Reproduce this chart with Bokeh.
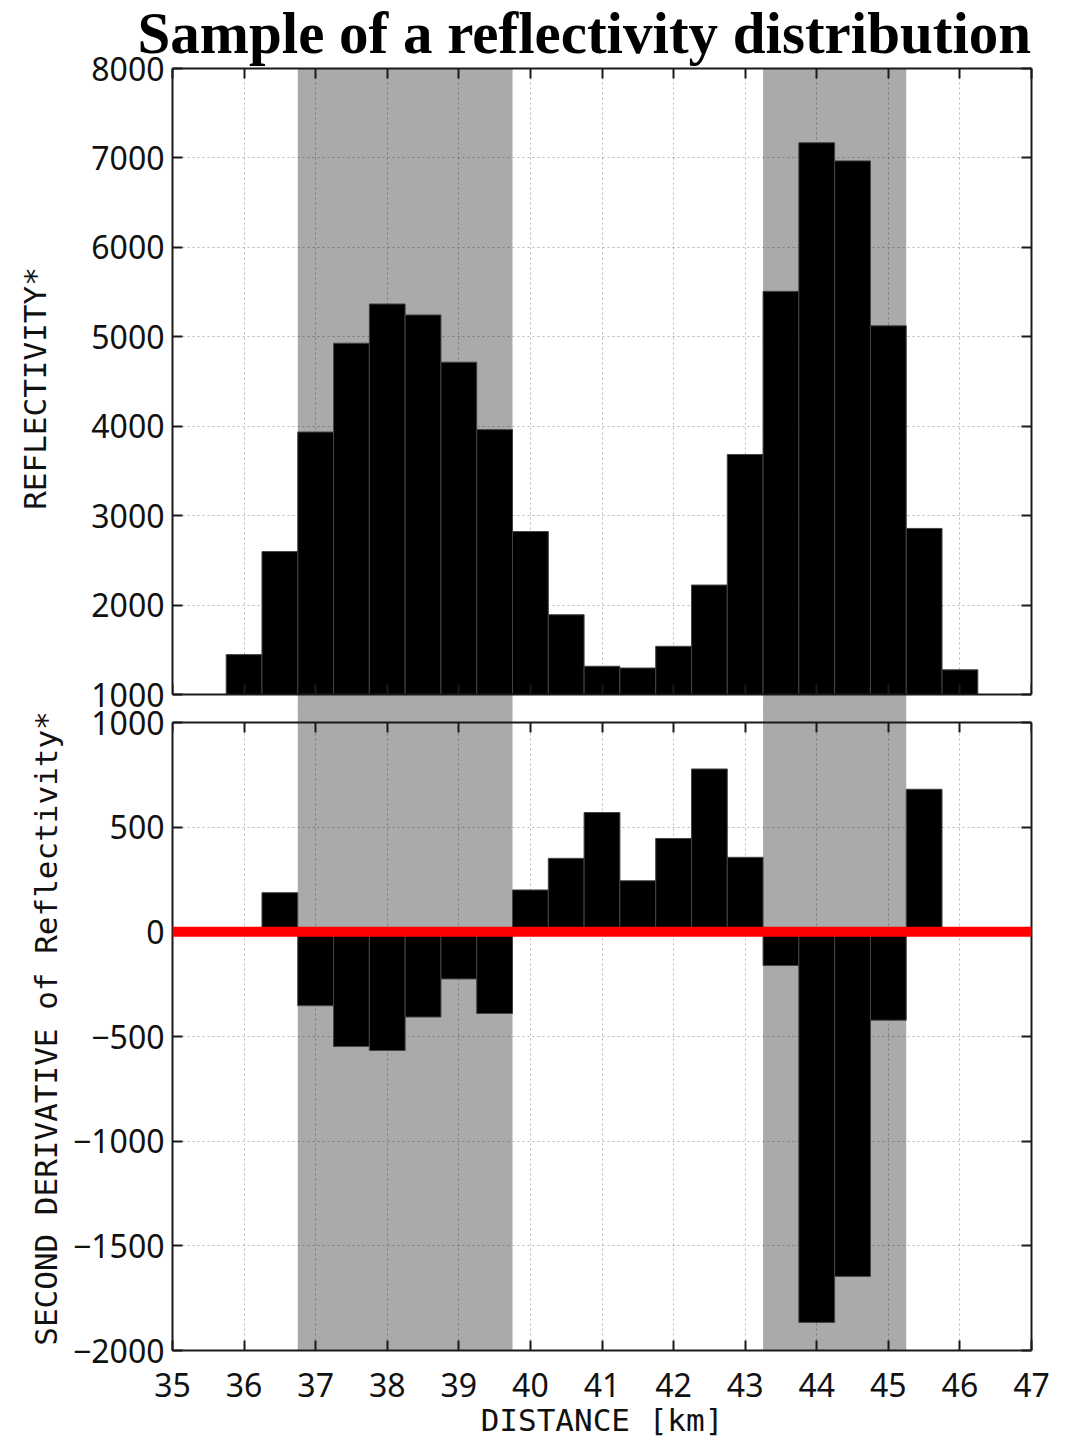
from bokeh.embed import file_html
from bokeh.layouts import column
from bokeh.models import BoxAnnotation, FixedTicker, Grid, LinearAxis, Range1d, Span
from bokeh.plotting import figure
from bokeh.resources import INLINE

# ---- data -------------------------------------------------------------
km_ticks = [35, 36, 37, 38, 39, 40, 41, 42, 43, 44, 45, 46, 47]
km_labels = ["35", "36", "37", "38", "39", "40", "41", "42", "43", "44", "45", "46", "47"]

# reflectivity histogram, 0.5 km bins (bin centres)
refl_km = [36.0, 36.5, 37.0, 37.5, 38.0, 38.5, 39.0, 39.5, 40.0, 40.5, 41.0,
           41.5, 42.0, 42.5, 43.0, 43.5, 44.0, 44.5, 45.0, 45.5, 46.0]
refl_val = [1446, 2598, 3935, 4928, 5367, 5244, 4716, 3962, 2822, 1892, 1316,
            1296, 1539, 2224, 3684, 5508, 7170, 6967, 5123, 2857, 1276]
refl_ticks = [1000, 2000, 3000, 4000, 5000, 6000, 7000, 8000]
refl_labels = ["1000", "2000", "3000", "4000", "5000", "6000", "7000", "8000"]

# second derivative of the reflectivity
deriv_km = [36.5, 37.0, 37.5, 38.0, 38.5, 39.0, 39.5, 40.0, 40.5, 41.0,
            41.5, 42.0, 42.5, 43.0, 43.5, 44.0, 44.5, 45.0, 45.5]
deriv_val = [187, -353, -548, -567, -407, -225, -390, 200, 351, 570,
             244, 446, 778, 356, -161, -1866, -1646, -422, 681]
deriv_ticks = [-2000, -1500, -1000, -500, 0, 500, 1000]
deriv_labels = ["\u22122000", "\u22121500", "\u22121000", "\u2212500", "0", "500", "1000"]

# highlighted distance intervals
band_start = [36.75, 43.25]
band_end = [39.75, 45.25]

# ---- layout -----------------------------------------------------------
INK = "#1a1a1a"
BAND = "#aaaaaa"
FRAME_W = 859
TOP_FRAME_H, TOP_PANEL_H = 640, 626
BOT_PANEL_H = 628
GAP = 14            # half of the space between the two panels
SEAM = 2            # lower figure slides up over the upper one by this much
BOT_FRAME_H = BOT_PANEL_H + GAP + SEAM
HEAD = 100          # room reserved above the upper frame for the title
LIFT = HEAD - 68    # the page is pulled up by this much

refl_lo, refl_hi = refl_ticks[0], refl_ticks[-1]
deriv_lo, deriv_hi = deriv_ticks[0], deriv_ticks[-1]
top_y0 = refl_lo - GAP * (refl_hi - refl_lo) / TOP_PANEL_H
bot_y1 = deriv_hi + (GAP + SEAM) * (deriv_hi - deriv_lo) / BOT_PANEL_H

TICK_FONT = "Noto Sans"
LABEL_FONT = "DejaVu Sans Mono"


def style_axis(ax, show_labels):
    ax.axis_line_color = INK
    ax.axis_line_width = 2
    ax.major_tick_line_color = INK
    ax.major_tick_line_width = 2
    ax.major_tick_in = 10
    ax.major_tick_out = 0
    ax.minor_tick_line_color = None
    if show_labels:
        ax.major_label_text_font = TICK_FONT
        ax.major_label_text_font_size = "32px"
        ax.major_label_text_color = "#111111"
        ax.major_label_standoff = 8
    else:
        ax.major_label_text_color = None
        ax.major_label_standoff = 0
    ax.axis_label_text_font = LABEL_FONT
    ax.axis_label_text_font_size = "31px"
    ax.axis_label_text_font_style = "normal"
    ax.axis_label_text_color = "#111111"


def dotted_grid(p, dim, ticks, cross):
    g = Grid(dimension=dim, ticker=FixedTicker(ticks=ticks), cross_bounds=cross,
             grid_line_color="black", grid_line_alpha=0.28,
             grid_line_dash="2 3", grid_line_width=1)
    p.add_layout(g, "center")


def shade_bands(p):
    # grey vertical bands spanning the whole frame, beneath the grid
    for lo, hi in zip(band_start, band_end):
        p.add_layout(BoxAnnotation(left=lo, right=hi, fill_color=BAND, fill_alpha=1.0,
                                   line_color=None, level="image"))


def make_fig(y_range, frame_h, top_border, fill):
    p = figure(frame_width=FRAME_W, frame_height=frame_h,
               x_range=Range1d(km_ticks[0], km_ticks[-1]), y_range=y_range,
               x_axis_location=None, y_axis_location=None,
               output_backend="svg", toolbar_location=None,
               min_border_left=172, min_border_right=40,
               min_border_top=top_border, min_border_bottom=0)
    p.xgrid.visible = False
    p.ygrid.visible = False
    p.outline_line_color = None
    p.background_fill_color = fill
    p.border_fill_color = fill
    return p


# ---- upper panel: reflectivity ----------------------------------------
top = make_fig(Range1d(top_y0, refl_hi), TOP_FRAME_H, HEAD, "white")
top.margin = (-LIFT, 0, 0, 0)
top.title.text = "Sample of a reflectivity distribution"
top.title.text_font = "Liberation Serif"
top.title.text_font_style = "bold"
top.title.text_font_size = "59px"
top.title.text_color = "black"
top.title.align = "left"
top.title.offset = -35
top.title.standoff = 5

shade_bands(top)
dotted_grid(top, 0, km_ticks, (refl_lo, refl_hi))
dotted_grid(top, 1, refl_ticks, (km_ticks[0], km_ticks[-1]))
top.vbar(x=refl_km, width=0.5, bottom=refl_lo, top=refl_val,
         fill_color="black", line_color="#444444", line_width=1)

ax = LinearAxis(ticker=FixedTicker(ticks=refl_ticks), bounds=(refl_lo, refl_hi),
                axis_label="REFLECTIVITY*",
                major_label_overrides=dict(zip(refl_ticks, refl_labels)))
style_axis(ax, True)
ax.axis_label_standoff = 35
top.add_layout(ax, "left")

ax = LinearAxis(ticker=FixedTicker(ticks=refl_ticks), bounds=(refl_lo, refl_hi))
style_axis(ax, False)
top.add_layout(ax, "right")

ax = LinearAxis(ticker=FixedTicker(ticks=km_ticks))
style_axis(ax, False)
top.add_layout(ax, "above")

ax = LinearAxis(ticker=FixedTicker(ticks=km_ticks), fixed_location=refl_lo)
style_axis(ax, False)
top.add_layout(ax, "below")

# ---- lower panel: second derivative -----------------------------------
# transparent fills, so the overlap with the upper figure shows through
bot = make_fig(Range1d(deriv_lo, bot_y1), BOT_FRAME_H, 0, None)
bot.margin = (-SEAM, 0, 0, 0)
bot.styles = {"position": "relative", "z-index": "1"}

shade_bands(bot)
dotted_grid(bot, 0, km_ticks, (deriv_lo, deriv_hi))
dotted_grid(bot, 1, deriv_ticks, (km_ticks[0], km_ticks[-1]))
bot.vbar(x=deriv_km, width=0.5, bottom=0, top=deriv_val,
         fill_color="black", line_color="#444444", line_width=1)
bot.add_layout(Span(location=0, dimension="width", line_color="#ff0000", line_width=10))

ax = LinearAxis(ticker=FixedTicker(ticks=deriv_ticks), bounds=(deriv_lo, deriv_hi),
                axis_label="SECOND DERIVATIVE of Reflectivity*",
                major_label_overrides=dict(zip(deriv_ticks, deriv_labels)))
style_axis(ax, True)
ax.axis_label_standoff = 6
bot.add_layout(ax, "left")

ax = LinearAxis(ticker=FixedTicker(ticks=deriv_ticks), bounds=(deriv_lo, deriv_hi))
style_axis(ax, False)
bot.add_layout(ax, "right")

ax = LinearAxis(ticker=FixedTicker(ticks=km_ticks), axis_label="DISTANCE [km]",
                major_label_overrides=dict(zip(km_ticks, km_labels)))
style_axis(ax, True)
ax.major_label_standoff = 22
ax.axis_label_standoff = 2
bot.add_layout(ax, "below")

ax = LinearAxis(ticker=FixedTicker(ticks=km_ticks), fixed_location=deriv_hi)
style_axis(ax, False)
bot.add_layout(ax, "above")

layout = column(top, bot, spacing=0)
open("out.html", "w").write(file_html(layout, INLINE))
